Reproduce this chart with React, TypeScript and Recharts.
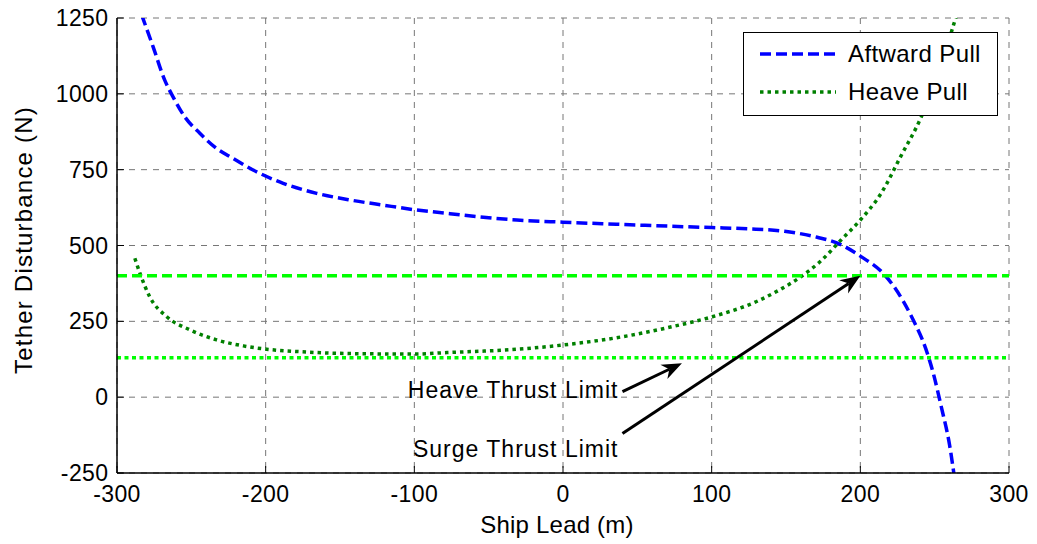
import React from 'react';
import {
  LineChart, Line, XAxis, YAxis, CartesianGrid, ReferenceLine, Legend,
} from 'recharts';

const FONT = '"Liberation Sans", Arial, Helvetica, sans-serif';

// Aftward pull vs ship lead (m -> N)
const AFTWARD_X = [
  -287, -282.5, -275.7, -267.9, -262.3, -254.4, -244.3, -233, -221.9, -206.1,
  -188.2, -165.7, -143.3, -120.8, -100, -76, -58, -31, 0, 36,
  70, 100, 124, 149, 171, 185, 200, 216, 223, 235,
  244, 249, 254.5, 260, 264,
];
const AFTWARD_Y = [
  1310, 1248, 1155, 1045, 990, 924, 870, 820, 787, 743,
  705, 672, 650, 633, 618, 605, 595, 584, 577, 570,
  564, 559, 555, 547, 527, 507, 465, 405, 362, 260,
  160, 80, -33, -157, -290,
];

// Heave pull vs ship lead
const HEAVE_X = [
  -288, -284.6, -278, -266.7, -251, -233, -215, -199.4, -177, -154.5,
  -132, -100, -78, -53, -40, 0, 38.6, 73, 101, 131,
  145, 160, 173, 187, 200, 214, 227, 241, 254, 264,
  268,
];
const HEAVE_Y = [
  458, 409, 331, 266, 222, 189, 169, 158, 150, 145,
  143, 142, 147, 152, 155, 172, 198, 232, 266, 317,
  352, 397, 447, 518, 584, 672, 792, 924, 1089, 1248,
  1310,
];

const X_TICKS = [-300, -200, -100, 0, 100, 200, 300];
const Y_TICKS = [-250, 0, 250, 500, 750, 1000, 1250];

const SURGE_LIMIT = 400;
const HEAVE_LIMIT = 130;

const ARROW_LABELS = ['Heave Thrust Limit', 'Surge Thrust Limit'];
const ARROW_TAILS = [{ x: 40, y: 18 }, { x: 40, y: -120 }];
const ARROW_TIPS = [{ x: 80, y: 112 }, { x: 200, y: 400 }];

const aftward = AFTWARD_X.map((x, i) => ({ x, y: AFTWARD_Y[i] }));
const heave = HEAVE_X.map((x, i) => ({ x, y: HEAVE_Y[i] }));

const tickText = { fontFamily: FONT, fontSize: 23, letterSpacing: 0.4, fill: '#000' };

const LeftTick = (p: any) => (
  <g>
    <line x1={p.x} y1={p.y} x2={p.x + 7} y2={p.y} stroke="#000" strokeWidth={1} />
    <text x={p.x - 8.5} y={p.y + 8} textAnchor="end" style={tickText}>{p.payload.value}</text>
  </g>
);

const BottomTick = (p: any) => (
  <g>
    <line x1={p.x} y1={p.y} x2={p.x} y2={p.y - 7} stroke="#000" strokeWidth={1} />
    <text x={p.x} y={p.y + 29} textAnchor="middle" style={tickText}>{p.payload.value}</text>
  </g>
);

const TopTick = (p: any) => (
  <line x1={p.x} y1={p.y} x2={p.x} y2={p.y + 7} stroke="#000" strokeWidth={1} />
);

const RightTick = (p: any) => (
  <line x1={p.x} y1={p.y} x2={p.x - 7} y2={p.y} stroke="#000" strokeWidth={1} />
);

// text offset of each annotation relative to the arrow tail
const LABEL_DY = [-2, 15];

const makeArrow = (idx: number) => (props: any) => {
  const { x1, y1, x2, y2 } = props;
  const ang = Math.atan2(y2 - y1, x2 - x1);
  const ux = Math.cos(ang);
  const uy = Math.sin(ang);
  const len = 20;
  const half = 8;
  const notch = 14;
  const bx = x2 - ux * len;
  const by = y2 - uy * len;
  const nx = x2 - ux * notch;
  const ny = y2 - uy * notch;
  const pts = [
    [x2, y2],
    [bx - uy * half, by + ux * half],
    [nx, ny],
    [bx + uy * half, by - ux * half],
  ].map((q) => q.join(',')).join(' ');
  return (
    <g>
      <line x1={x1} y1={y1} x2={nx} y2={ny} stroke="#000" strokeWidth={3} />
      <polygon points={pts} fill="#000" />
      <text
        x={x1 - 4}
        y={y1 + LABEL_DY[idx] + 8}
        textAnchor="end"
        style={{ fontFamily: FONT, fontSize: 23, letterSpacing: 1, fill: '#000' }}
      >
        {ARROW_LABELS[idx]}
      </text>
    </g>
  );
};

const renderLegend = (props: any) => {
  const items = props.payload || [];
  return (
    <div
      style={{
        width: 255,
        height: 84,
        boxSizing: 'border-box',
        border: '1.5px solid #000',
        background: '#fff',
        position: 'relative',
        fontFamily: FONT,
      }}
    >
      {items.map((it: any, i: number) => {
        const top = i === 0 ? 21 : 59;
        return (
          <div key={it.value} style={{ position: 'absolute', left: 0, top: top - 14, height: 28, width: 253 }}>
            <svg width={100} height={28} style={{ position: 'absolute', left: 0, top: 0 }}>
              <line
                x1={16} y1={14} x2={92} y2={14}
                stroke={it.color}
                strokeWidth={3.5}
                strokeDasharray={it.payload?.strokeDasharray}
              />
            </svg>
            <span
              style={{
                position: 'absolute',
                left: 104,
                top: 0,
                lineHeight: '28px',
                fontSize: 24,
                letterSpacing: 0.4,
                color: '#000',
                whiteSpace: 'nowrap',
              }}
            >
              {it.value}
            </span>
          </div>
        );
      })}
    </div>
  );
};

const App: React.FC = () => {
  return (
    <div style={{ position: 'absolute', left: 0, top: 0, background: '#fff' }}>
      <LineChart width={1037} height={544} margin={{ top: 18, right: 28, bottom: 21, left: 0 }}>
        <CartesianGrid stroke="#767676" strokeWidth={1} strokeDasharray="6 6" />
        <XAxis
          dataKey="x"
          type="number"
          domain={[-300, 300]}
          ticks={X_TICKS}
          interval={0}
          allowDataOverflow
          height={50}
          tickSize={0}
          tickMargin={0}
          tickLine={false}
          tick={BottomTick}
          axisLine={{ stroke: '#000', strokeWidth: 1.5 }}
          label={{
            value: 'Ship Lead (m)',
            content: (p: any) => {
              const vb = p.viewBox;
              return (
                <text
                  x={vb.x + vb.width / 2 - 6}
                  y={vb.y + 60}
                  textAnchor="middle"
                  style={{ fontFamily: FONT, fontSize: 24, letterSpacing: 0.2, fill: '#000' }}
                >
                  Ship Lead (m)
                </text>
              );
            },
          }}
        />
        <XAxis
          xAxisId="top"
          orientation="top"
          dataKey="x"
          type="number"
          domain={[-300, 300]}
          ticks={X_TICKS}
          interval={0}
          height={0}
          tickSize={0}
          tickMargin={0}
          tickLine={false}
          tick={TopTick}
          axisLine={{ stroke: '#000', strokeWidth: 1.5 }}
        />
        <YAxis
          type="number"
          domain={[-250, 1250]}
          ticks={Y_TICKS}
          interval={0}
          allowDataOverflow
          width={117}
          tickSize={0}
          tickMargin={0}
          tickLine={false}
          tick={LeftTick}
          axisLine={{ stroke: '#000', strokeWidth: 1.5 }}
          label={{
            value: 'Tether Disturbance (N)',
            content: () => (
              <text
                x={0}
                y={0}
                transform="translate(32, 240) rotate(-90)"
                textAnchor="middle"
                style={{ fontFamily: FONT, fontSize: 24, letterSpacing: 1.2, fill: '#000' }}
              >
                Tether Disturbance (N)
              </text>
            ),
          }}
        />
        <YAxis
          yAxisId="right"
          orientation="right"
          type="number"
          domain={[-250, 1250]}
          ticks={Y_TICKS}
          interval={0}
          width={0}
          tickSize={0}
          tickMargin={0}
          tickLine={false}
          tick={RightTick}
          axisLine={{ stroke: '#000', strokeWidth: 1.5 }}
        />
        <Line
          name="Aftward Pull"
          data={aftward}
          dataKey="y"
          type="monotone"
          stroke="#0000ff"
          strokeWidth={3.5}
          strokeDasharray="11 5"
          dot={false}
          activeDot={false}
          isAnimationActive={false}
        />
        <Line
          name="Heave Pull"
          data={heave}
          dataKey="y"
          type="monotone"
          stroke="#008000"
          strokeWidth={3.5}
          strokeDasharray="3.5 4"
          dot={false}
          activeDot={false}
          isAnimationActive={false}
        />
        <ReferenceLine y={SURGE_LIMIT} stroke="#00ff00" strokeWidth={3.5} strokeDasharray="10 5" />
        <ReferenceLine y={HEAVE_LIMIT} stroke="#00ff00" strokeWidth={3.5} strokeDasharray="4 3.5" />
        {ARROW_LABELS.map((label, i) => (
          <ReferenceLine
            key={label}
            segment={[ARROW_TAILS[i], ARROW_TIPS[i]]}
            shape={makeArrow(i)}
          />
        ))}
        <Legend
          layout="vertical"
          align="center"
          verticalAlign="middle"
          content={renderLegend}
          wrapperStyle={{ left: 743, top: 32, width: 255, height: 84 }}
        />
      </LineChart>
    </div>
  );
};

export default App;
